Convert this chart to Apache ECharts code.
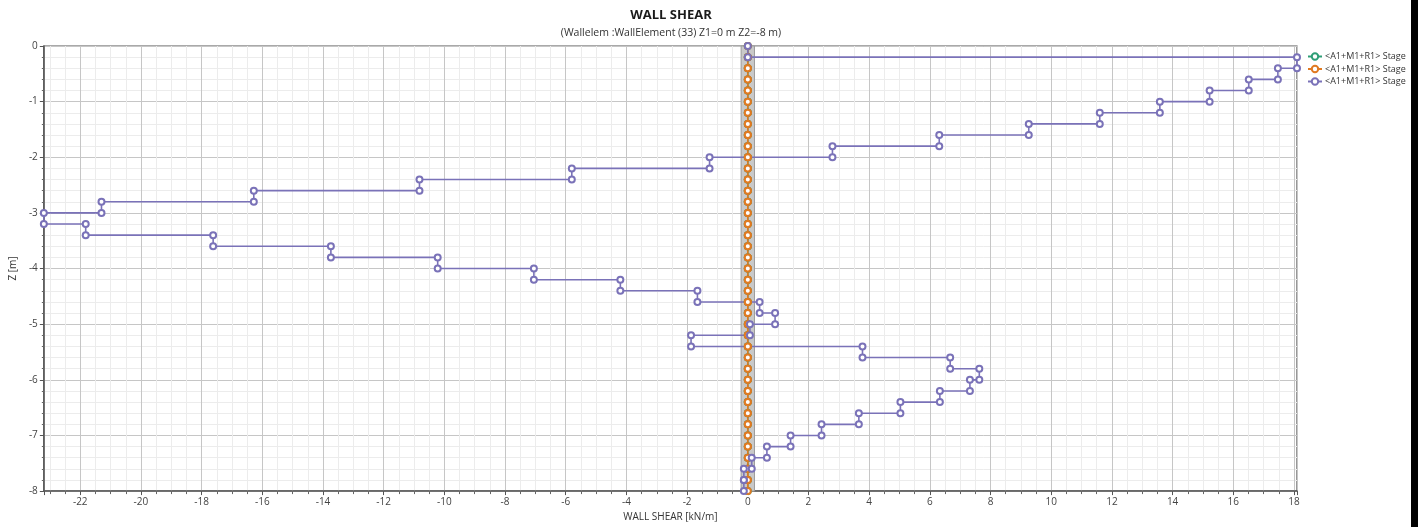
<!DOCTYPE html>
<html>
<head>
<meta charset="utf-8">
<title>WALL SHEAR</title>
<script src="https://cdn.jsdelivr.net/npm/echarts@6/dist/echarts.min.js"></script>
<style>
html, body { margin: 0; padding: 0; background: #fff; }
#main { width: 1418px; height: 527px; }
</style>
</head>
<body>
<div id="main"></div>
<script>
// node depths of the wall element [m]
var zNodes = [0, -0.2, -0.4, -0.6, -0.8, -1, -1.2, -1.4, -1.6, -1.8, -2,
  -2.2, -2.4, -2.6, -2.8, -3, -3.2, -3.4, -3.6, -3.8, -4,
  -4.2, -4.4, -4.6, -4.8, -5, -5.2, -5.4, -5.6, -5.8, -6,
  -6.2, -6.4, -6.6, -6.8, -7, -7.2, -7.4, -7.6, -7.8, -8];

// shear per element [kN/m], one value between two nodes
var shearStage1 = [0, 0, 0, 0, 0, 0, 0, 0, 0, 0,
  0, 0, 0, 0, 0, 0, 0, 0, 0, 0,
  0, 0, 0, 0, 0, 0, 0, 0, 0, 0,
  0, 0, 0, 0, 0, 0, 0, 0, 0, 0];
var shearStage2 = [0, 0, 0, 0, 0, 0, 0, 0, 0, 0,
  0, 0, 0, 0, 0, 0, 0, 0, 0, 0,
  0, 0, 0, 0, 0, 0, 0, 0, 0, 0,
  0, 0, 0, 0, 0, 0, 0, 0, 0, 0];
var shearStage3 = [0, 18.1, 17.47, 16.51, 15.22, 13.58, 11.6, 9.26, 6.31, 2.79,
  -1.26, -5.8, -10.82, -16.28, -21.3, -23.2, -21.82, -17.62, -13.74, -10.22,
  -7.05, -4.2, -1.66, 0.39, 0.9, 0.07, -1.87, 3.78, 6.67, 7.63,
  7.32, 6.33, 5.03, 3.66, 2.43, 1.41, 0.63, 0.13, -0.13, -0.13];

var seriesNames = ['Stage 1', 'Stage 2', 'Stage 3'];
var legendLabel = '<A1+M1+R1> Stage';
var wallHalfWidth = 0.22;

// step outline: each element drawn from its top node to its bottom node
var steps = function (vals) {
  var pts = [];
  for (var i = 0; i < vals.length; i++) {
    pts.push([vals[i], zNodes[i]]);
    pts.push([vals[i], zNodes[i + 1]]);
  }
  return pts;
};

var font = '"Open Sans", "Noto Sans", sans-serif';
var myChart = echarts.init(document.getElementById('main'));

var lineSeries = function (name, vals, color) {
  return {
    name: name,
    type: 'line',
    data: steps(vals),
    symbol: 'emptyCircle',
    symbolSize: 6,
    clip: false,
    color: color,
    lineStyle: { color: color, width: 1.6 },
    itemStyle: { color: color, borderColor: color, borderWidth: 1.5 },
    emphasis: { disabled: true }
  };
};

var s1 = lineSeries(seriesNames[0], shearStage1, '#2e9e76');
s1.markArea = {
  silent: true,
  itemStyle: { color: '#c9c9c9', borderColor: '#9b9b9b', borderWidth: 1 },
  data: [[{ xAxis: -wallHalfWidth }, { xAxis: wallHalfWidth }]]
};

myChart.setOption({
  animation: false,
  title: [
    {
      text: 'WALL SHEAR',
      left: 666,
      top: 4,
      textAlign: 'center',
      textStyle: { fontFamily: font, fontSize: 13, fontWeight: 'bold', color: '#1a1a1a' }
    },
    {
      text: '(Wallelem :WallElement (33) Z1=0 m Z2=-8 m)',
      left: 666,
      top: 23,
      textAlign: 'center',
      textStyle: { fontFamily: font, fontSize: 10.5, fontWeight: 'normal', color: '#333' }
    }
  ],
  legend: {
    data: seriesNames,
    orient: 'vertical',
    left: 1307,
    top: 52,
    itemWidth: 14,
    itemHeight: 8,
    itemGap: 3.5,
    padding: 0,
    formatter: function () { return legendLabel; },
    textStyle: { fontFamily: font, fontSize: 9, color: '#333', padding: [0, 0, 0, -2] }
  },
  grid: {
    left: 38,
    right: 121,
    top: 46,
    bottom: 31,
    show: true,
    borderColor: '#555',
    borderWidth: 1.2
  },
  xAxis: {
    type: 'value',
    min: -23.2,
    max: 18.1,
    minInterval: 2,
    maxInterval: 2,
    splitNumber: 20,
    name: 'WALL SHEAR [kN/m]',
    nameLocation: 'middle',
    nameGap: 19,
    nameTextStyle: { fontFamily: font, fontSize: 10, color: '#333' },
    axisLine: { onZero: false, lineStyle: { color: '#555', width: 1.5 } },
    axisTick: { length: 4, lineStyle: { color: '#555' } },
    minorTick: { show: true, splitNumber: 4, length: 3, lineStyle: { color: '#666' } },
    axisLabel: { fontFamily: font, fontSize: 10, color: '#444', margin: 6, showMinLabel: false, showMaxLabel: false },
    splitLine: { lineStyle: { color: '#c6c6c6', width: 1 } },
    minorSplitLine: { show: true, lineStyle: { color: '#ececec', width: 1 } }
  },
  yAxis: {
    type: 'value',
    min: -8,
    max: 0,
    interval: 1,
    name: 'Z [m]',
    nameLocation: 'middle',
    nameGap: 22,
    nameTextStyle: { fontFamily: font, fontSize: 10, color: '#333' },
    axisLine: { onZero: false, lineStyle: { color: '#555', width: 1.5 } },
    axisTick: { length: 4, lineStyle: { color: '#555' } },
    minorTick: { show: true, splitNumber: 5, length: 2, lineStyle: { color: '#666' } },
    axisLabel: { fontFamily: font, fontSize: 10, color: '#444', margin: 6 },
    splitLine: { lineStyle: { color: '#c6c6c6', width: 1 } },
    minorSplitLine: { show: true, lineStyle: { color: '#ececec', width: 1 } }
  },
  graphic: [
    { type: 'rect', right: 0, top: 0, shape: { width: 7, height: 527 }, style: { fill: '#000' }, silent: true }
  ],
  series: [
    s1,
    lineSeries(seriesNames[1], shearStage2, '#e07a22'),
    lineSeries(seriesNames[2], shearStage3, '#7a72b8')
  ]
});
</script>
</body>
</html>
